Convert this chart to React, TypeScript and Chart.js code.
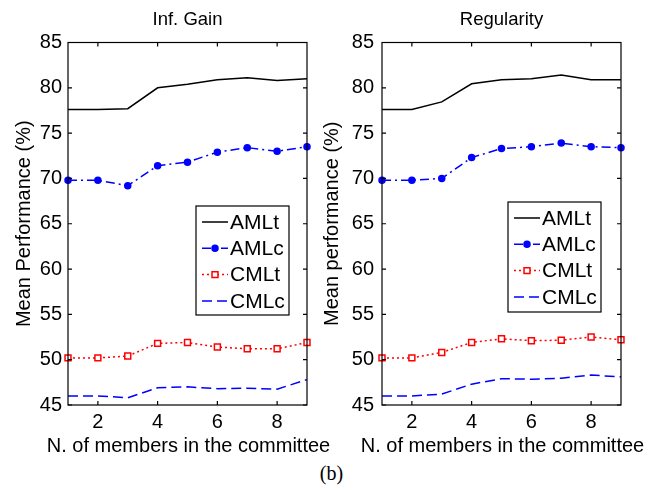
import { useEffect, useRef } from "react";
import { Chart, registerables } from "chart.js";

Chart.register(...registerables);

// ---------- data ----------
const members = [1, 2, 3, 4, 5, 6, 7, 8, 9];
const xTickValues = [2, 4, 6, 8];
const yTickValues = [45, 50, 55, 60, 65, 70, 75, 80, 85];
const seriesNames = ["AMLt", "AMLc", "CMLt", "CMLc"];
const xAxisTitle = "N. of members in the committee";

const infGainAMLt = [77.6, 77.6, 77.7, 80.0, 80.4, 80.9, 81.1, 80.8, 81.0];
const infGainAMLc = [69.8, 69.8, 69.2, 71.4, 71.8, 72.9, 73.4, 73.0, 73.5];
const infGainCMLt = [50.2, 50.2, 50.4, 51.8, 51.9, 51.4, 51.2, 51.2, 51.9];
const infGainCMLc = [46.0, 46.0, 45.8, 46.9, 47.0, 46.8, 46.85, 46.75, 47.8];

const regularityAMLt = [77.6, 77.6, 78.45, 80.45, 80.9, 81.0, 81.4, 80.9, 80.9];
const regularityAMLc = [69.8, 69.8, 70.0, 72.3, 73.3, 73.5, 73.9, 73.5, 73.4];
const regularityCMLt = [50.2, 50.2, 50.8, 51.9, 52.3, 52.1, 52.15, 52.5, 52.2];
const regularityCMLc = [46.0, 46.0, 46.2, 47.3, 47.9, 47.85, 47.95, 48.3, 48.1];

// ---------- styles ----------
const FONT = "'Liberation Sans', Arial, Helvetica, sans-serif";
const BLUE = "#0000ff";
const RED = "#ff0000";

type SeriesStyle = {
  color: string;
  dash: number[];
  pointStyle: string | false;
  radius: number;
  fill: string;
};

const seriesStyles: SeriesStyle[] = [
  { color: "#000000", dash: [], pointStyle: false, radius: 0, fill: "#000000" },
  { color: BLUE, dash: [9, 4, 2, 4], pointStyle: "circle", radius: 3, fill: BLUE },
  { color: RED, dash: [2, 3], pointStyle: "rect", radius: 4.2, fill: "#ffffff" },
  { color: BLUE, dash: [10, 5], pointStyle: false, radius: 0, fill: BLUE },
];

type PanelCfg = {
  title: string;
  yTitle: string;
  values: number[][];
  canvasLeft: number;
  canvasWidth: number;
  rightPad: number;
  yTickPad: number;
  yTitlePad: number;
  legend: { x: number; y: number; w: number; h: number };
};

const panels: PanelCfg[] = [
  {
    title: "Inf. Gain",
    yTitle: "Mean Performance (%)",
    values: [infGainAMLt, infGainAMLc, infGainCMLt, infGainCMLc],
    canvasLeft: 0,
    canvasWidth: 331,
    rightPad: 24,
    yTickPad: 6,
    yTitlePad: 12,
    legend: { x: 128, y: 163.5, w: 93, h: 109 },
  },
  {
    title: "Regularity",
    yTitle: "Mean performance (%)",
    values: [regularityAMLt, regularityAMLc, regularityCMLt, regularityCMLc],
    canvasLeft: 314,
    canvasWidth: 349,
    rightPad: 42,
    yTickPad: 8,
    yTitlePad: 6.5,
    legend: { x: 126, y: 159.5, w: 93, h: 110 },
  },
];

const CANVAS_H = 460;
const Y_AXIS_W = 68;
const X_AXIS_H = 55;
const TOP_PAD = 42.5;

function drawMarker(ctx: CanvasRenderingContext2D, st: SeriesStyle, x: number, y: number) {
  if (!st.pointStyle) return;
  ctx.save();
  ctx.setLineDash([]);
  ctx.lineWidth = 1.5;
  ctx.strokeStyle = st.color;
  ctx.fillStyle = st.fill;
  ctx.beginPath();
  if (st.pointStyle === "circle") {
    ctx.arc(x, y, st.radius, 0, Math.PI * 2);
  } else {
    const s = Math.SQRT1_2 * st.radius;
    ctx.rect(x - s, y - s, 2 * s, 2 * s);
  }
  ctx.fill();
  ctx.stroke();
  ctx.restore();
}

function makeFramePlugin(cfg: PanelCfg) {
  return {
    id: "frameAndLegend",
    afterDraw(chart: any) {
      const ctx: CanvasRenderingContext2D = chart.ctx;
      const { left, right, top, bottom } = chart.chartArea;
      const xs = chart.scales.x;
      const ys = chart.scales.y;
      ctx.save();
      // frame
      ctx.strokeStyle = "#000";
      ctx.lineWidth = 1.2;
      ctx.setLineDash([]);
      ctx.strokeRect(left, top, right - left, bottom - top);
      // inward ticks
      const tl = 4;
      ctx.beginPath();
      xTickValues.forEach((v) => {
        const px = xs.getPixelForValue(v);
        ctx.moveTo(px, bottom);
        ctx.lineTo(px, bottom - tl);
        ctx.moveTo(px, top);
        ctx.lineTo(px, top + tl);
      });
      yTickValues.forEach((v) => {
        const py = ys.getPixelForValue(v);
        ctx.moveTo(left, py);
        ctx.lineTo(left + tl, py);
        ctx.moveTo(right, py);
        ctx.lineTo(right - tl, py);
      });
      ctx.stroke();

      // title
      ctx.fillStyle = "#000";
      ctx.font = `18.5px ${FONT}`;
      ctx.textAlign = "center";
      ctx.textBaseline = "alphabetic";
      ctx.fillText(cfg.title, (left + right) / 2, 25);

      // x axis title (drawn without width squeezing)
      ctx.font = `20px ${FONT}`;
      ctx.fillText(xAxisTitle, (left + right) / 2 + 1, 452);

      // legend
      const lb = cfg.legend;
      const bx = left + lb.x;
      const by = top + lb.y;
      ctx.fillStyle = "#fff";
      ctx.fillRect(bx, by, lb.w, lb.h);
      ctx.strokeStyle = "#000";
      ctx.lineWidth = 1.2;
      ctx.strokeRect(bx, by, lb.w, lb.h);
      seriesNames.forEach((name, i) => {
        const st = seriesStyles[i];
        const ry = by + 16 + i * 26.3;
        ctx.save();
        ctx.strokeStyle = st.color;
        ctx.lineWidth = 1.5;
        ctx.setLineDash(st.dash);
        ctx.beginPath();
        ctx.moveTo(bx + 6, ry);
        ctx.lineTo(bx + 32, ry);
        ctx.stroke();
        ctx.restore();
        drawMarker(ctx, st, bx + 19, ry);
        ctx.fillStyle = "#000";
        ctx.font = `21px ${FONT}`;
        ctx.textAlign = "left";
        ctx.textBaseline = "middle";
        ctx.fillText(name, bx + 34, ry + 1);
      });
      ctx.restore();
    },
  };
}

function Panel({ cfg }: { cfg: PanelCfg }) {
  const ref = useRef<HTMLCanvasElement | null>(null);
  useEffect(() => {
    if (!ref.current) return;
    const datasets = seriesNames.map((name, i) => {
      const st = seriesStyles[i];
      return {
        label: name,
        data: members.map((m, j) => ({ x: m, y: cfg.values[i][j] })),
        borderColor: st.color,
        backgroundColor: st.fill,
        borderWidth: 1.5,
        borderDash: st.dash,
        pointStyle: st.pointStyle,
        pointRadius: st.radius,
        pointBorderWidth: 1.5,
        pointBorderColor: st.color,
        pointBackgroundColor: st.fill,
        tension: 0,
        fill: false,
        clip: false as any,
      };
    });
    const chart = new Chart(ref.current, {
      type: "line",
      data: { datasets: datasets as any },
      options: {
        animation: false,
        responsive: false,
        devicePixelRatio: 1,
        events: [],
        layout: { padding: { top: TOP_PAD, right: cfg.rightPad, bottom: 0, left: 0 } },
        plugins: {
          legend: { display: false },
          tooltip: { enabled: false },
          title: { display: false },
        },
        scales: {
          x: {
            type: "linear",
            min: 1,
            max: 9,
            afterBuildTicks: (s: any) => {
              s.ticks = xTickValues.map((v) => ({ value: v }));
            },
            afterFit: (s: any) => {
              s.height = X_AXIS_H;
            },
            grid: { display: false, drawTicks: false },
            border: { display: false },
            ticks: {
              autoSkip: false,
              maxRotation: 0,
              padding: 5,
              color: "#000",
              font: { family: FONT, size: 20 },
            },
            title: { display: false },
          },
          y: {
            type: "linear",
            min: 45,
            max: 85,
            afterBuildTicks: (s: any) => {
              s.ticks = yTickValues.map((v) => ({ value: v }));
            },
            afterFit: (s: any) => {
              s.width = Y_AXIS_W;
            },
            grid: { display: false, drawTicks: false },
            border: { display: false },
            ticks: {
              autoSkip: false,
              padding: cfg.yTickPad,
              color: "#000",
              font: { family: FONT, size: 20 },
            },
            title: {
              display: true,
              text: cfg.yTitle,
              color: "#000",
              font: { family: FONT, size: 20 },
              padding: { top: cfg.yTitlePad, bottom: 0 },
            },
          },
        },
      },
      plugins: [makeFramePlugin(cfg)],
    });
    return () => chart.destroy();
  }, [cfg]);
  return (
    <canvas
      ref={ref}
      width={cfg.canvasWidth}
      height={CANVAS_H}
      style={{
        position: "absolute",
        left: cfg.canvasLeft,
        top: 0,
        width: cfg.canvasWidth,
        height: CANVAS_H,
      }}
    />
  );
}

export default function App() {
  return (
    <div
      style={{
        position: "absolute",
        left: 0,
        top: 0,
        width: 663,
        height: 491,
        background: "#fff",
        overflow: "hidden",
      }}
    >
      {panels.map((p) => (
        <Panel key={p.title} cfg={p} />
      ))}
      <div
        style={{
          position: "absolute",
          left: 0,
          top: 461,
          width: 663,
          textAlign: "center",
          fontFamily: "'Liberation Serif', 'Times New Roman', serif",
          fontSize: 20,
          lineHeight: "24px",
          color: "#000",
        }}
      >
        (b)
      </div>
    </div>
  );
}
